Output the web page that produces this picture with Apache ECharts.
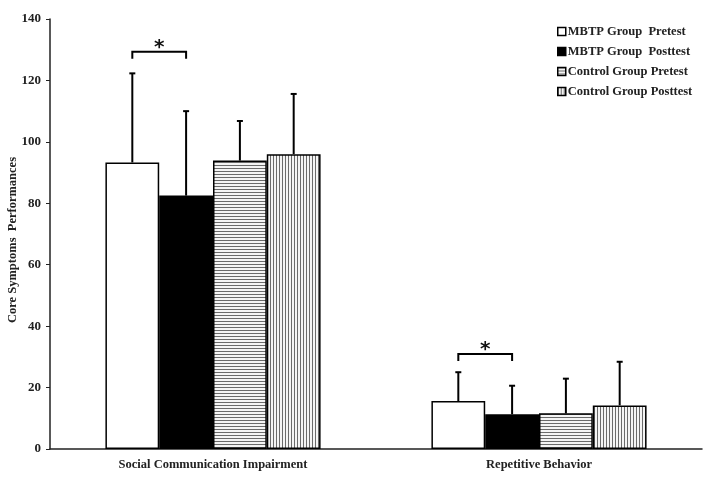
<!DOCTYPE html>
<html>
<head>
<meta charset="utf-8">
<script src="https://cdn.jsdelivr.net/npm/echarts@6/dist/echarts.min.js"></script>
<style>
html,body{margin:0;padding:0;background:#fff;}
#chart{width:711px;height:480px;}
</style>
</head>
<body>
<div id="chart"></div>
<script>
// ---- data ----
var categories = ['Social Communication Impairment', 'Repetitive Behavior'];
var seriesNames = ['MBTP Group  Pretest', 'MBTP Group  Posttest', 'Control Group Pretest', 'Control Group Posttest'];
var mbtpPre = [93.3, 15.6];
var mbtpPost = [82.5, 11.3];
var ctrlPre = [93.9, 11.6];
var ctrlPost = [96.0, 14.2];
var mbtpPreSD = [29.0, 9.4];
var mbtpPostSD = [27.5, 9.3];
var ctrlPreSD = [12.9, 11.3];
var ctrlPostSD = [19.6, 14.2];
var sigCategories = [0, 1];
var sigLevels = [129.3, 30.9];
var sigMarks = ['*', '*'];
var yTicks = [0, 20, 40, 60, 80, 100, 120, 140];

// ---- patterns ----
function stripe(horizontal) {
  var c = document.createElement('canvas');
  c.width = 3; c.height = 3;
  var ctx = c.getContext('2d');
  ctx.fillStyle = '#f4f4f4';
  ctx.fillRect(0, 0, 3, 3);
  ctx.fillStyle = '#6a6a6a';
  if (horizontal) ctx.fillRect(0, 0, 3, 1); else ctx.fillRect(0, 0, 1, 3);
  return c;
}
var fills = ['#ffffff', '#000000',
  { image: stripe(true), repeat: 'repeat' },
  { image: stripe(false), repeat: 'repeat' }];

var means = [mbtpPre, mbtpPost, ctrlPre, ctrlPost];
var sds = [mbtpPreSD, mbtpPostSD, ctrlPreSD, ctrlPostSD];
var BAR_FRAC = 0.165;

var font = '"Liberation Serif", "Times New Roman", serif';

var series = seriesNames.map(function (n, i) {
  return {
    name: n,
    type: 'bar',
    data: means[i],
    barWidth: (BAR_FRAC * 100) + '%',
    barGap: '0%',
    itemStyle: { color: fills[i], borderColor: '#000', borderWidth: 1.5 },
    z: 2
  };
});

var errData = [];
for (var s = 0; s < 4; s++) {
  for (var c = 0; c < categories.length; c++) {
    errData.push([c, s, means[s][c], sds[s][c]]);
  }
}
series.push({
  type: 'custom',
  name: 'err',
  data: errData,
  encode: { x: 0, y: 2 },
  z: 5,
  silent: true,
  renderItem: function (params, api) {
    var cat = api.value(0), s = api.value(1), m = api.value(2), sd = api.value(3);
    var bw = api.size([1, 0])[0] * BAR_FRAC;
    var x = api.coord([cat, 0])[0] + (s - 1.5) * bw;
    var y0 = api.coord([cat, m])[1];
    var y1 = api.coord([cat, m + sd])[1];
    var st = { stroke: '#000', lineWidth: 2, fill: null };
    return {
      type: 'group',
      children: [
        { type: 'line', shape: { x1: x, y1: y0, x2: x, y2: y1 }, style: st },
        { type: 'line', shape: { x1: x - 3, y1: y1, x2: x + 3, y2: y1 }, style: st }
      ]
    };
  }
});

var sigData = sigCategories.map(function (c, i) { return [c, sigLevels[i], sigMarks[i]]; });
series.push({
  type: 'custom',
  name: 'sig',
  data: sigData,
  encode: { x: 0, y: 1 },
  z: 5,
  silent: true,
  renderItem: function (params, api) {
    var cat = api.value(0), lv = api.value(1);
    var bw = api.size([1, 0])[0] * BAR_FRAC;
    var cx = api.coord([cat, 0])[0];
    var xa = cx - 1.5 * bw, xb = cx - 0.5 * bw;
    var y = api.coord([cat, lv])[1];
    return {
      type: 'group',
      children: [
        { type: 'polyline', shape: { points: [[xa, y + 7], [xa, y], [xb, y], [xb, y + 7]] },
          style: { stroke: '#000', lineWidth: 2, fill: null } },
        { type: 'text', x: (xa + xb) / 2, y: y - 4,
          style: { text: sigData[params.dataIndex][2], fill: '#111', font: 'bold 20px "DejaVu Sans", sans-serif',
                   align: 'center', verticalAlign: 'middle' } }
      ]
    };
  }
});

var chart = echarts.init(document.getElementById('chart'), null, { renderer: 'canvas' });
chart.setOption({
  animation: false,
  backgroundColor: '#fff',
  textStyle: { fontFamily: font },
  grid: { left: 50, right: 9, top: 19, bottom: 31, containLabel: false, outerBoundsMode: 'none' },
  legend: {
    data: seriesNames,
    orient: 'vertical',
    left: 557,
    top: 25,
    padding: 0,
    icon: 'rect',
    itemWidth: 8,
    itemHeight: 8,
    itemGap: 7,
    textStyle: { fontFamily: font, fontWeight: 'bold', fontSize: 12.5, color: '#222', padding: [0, 0, 0, -3] },
    itemStyle: { borderWidth: 1.5, borderColor: '#000' }
  },
  xAxis: {
    type: 'category',
    data: categories,
    axisLine: { lineStyle: { color: '#222', width: 1.5 } },
    axisTick: { alignWithLabel: true, length: 3, lineStyle: { color: '#222' } },
    axisLabel: { fontFamily: font, fontWeight: 'bold', fontSize: 12.5, color: '#222', margin: 9 },
    splitLine: { show: false }
  },
  yAxis: {
    type: 'value',
    min: 0,
    max: 140,
    interval: 20,
    name: 'Core Symptoms  Performances',
    nameLocation: 'middle',
    nameGap: 31,
    nameMoveOverlap: false,
    nameTextStyle: { fontFamily: font, fontWeight: 'bold', fontSize: 12.5, color: '#222', padding: [0, 12, 0, 0] },
    axisLine: { show: true, lineStyle: { color: '#222', width: 1.5 } },
    axisTick: { show: true, length: 4, lineStyle: { color: '#222' } },
    axisLabel: { fontFamily: font, fontWeight: 'bold', fontSize: 13, color: '#222', margin: 9,
      formatter: function (v) { return yTicks.indexOf(v) >= 0 ? String(v) : ''; } },
    splitLine: { show: false }
  },
  series: series
});
</script>
</body>
</html>
